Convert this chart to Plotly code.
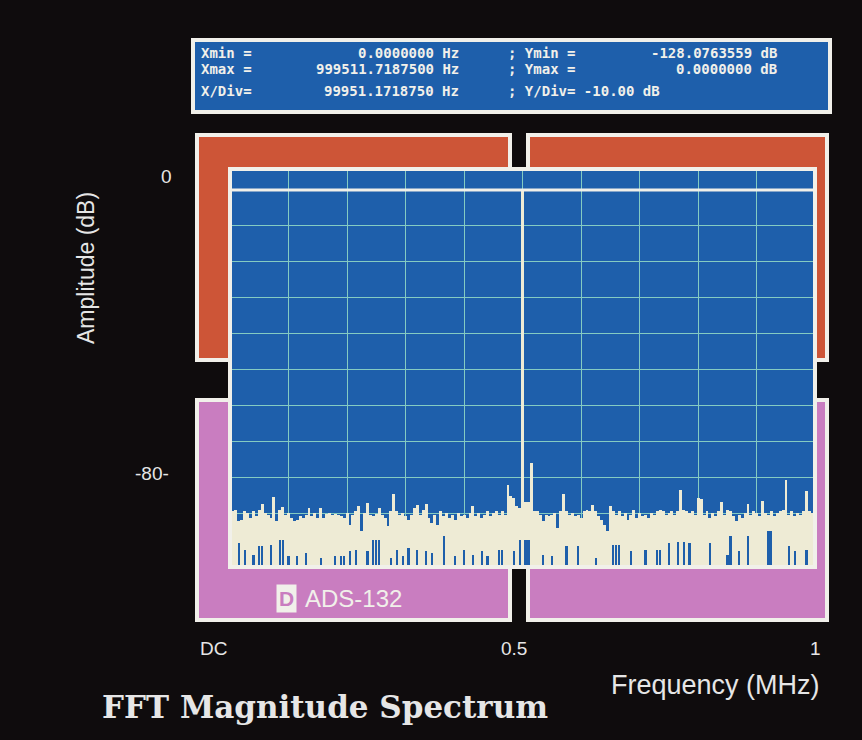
import plotly.graph_objects as go

# FFT display: 200 bins from DC to ~1 MHz, amplitude in dB
bin_width_mhz = 0.005
x_max_mhz = 0.9995117
y_top_db = 5.85
y_bottom_db = -105.0

# upper envelope of each bin (dB); bin 100 is the 0.5 MHz carrier
peak_db = [
    -87, -89.5, -89, -92.3, -91.8, -89.5, -90, -91.3, -89.5, -90.9,
    -89, -87.4, -90, -90.4, -91.3, -85.6, -92.3, -89, -88.4, -90.4,
    -90, -91.3, -92.3, -91.8, -90.9, -91.3, -90.4, -88.7, -90.9, -90,
    -91.3, -88.6, -91.3, -90.2, -90, -90.4, -90.2, -90.6, -90.9, -91.3,
    -90, -93.2, -90.4, -89.5, -88.1, -95.1, -90, -87.2, -90.4, -90.9,
    -90.2, -88.7, -90.4, -91.3, -93.7, -89.5, -84.8, -89.5, -90.4, -90,
    -90.9, -91.8, -90.4, -88.6, -87.6, -90.4, -89, -87.4, -91.3, -92.7,
    -90.4, -93.2, -89.5, -90.9, -90, -91.3, -90.4, -91.8, -90, -90.9,
    -90.4, -91.3, -90, -87.9, -90.9, -90, -91.3, -90.4, -89.5, -90.9,
    -90, -89.5, -90.4, -89.5, -90.4, -82.1, -85.3, -85.8, -88.1, -88.6,
    0.0, -87, -87, -76, -89.5, -89.5, -90.4, -92.3, -90.4, -90.9,
    -90.4, -90, -94.1, -89.5, -84.8, -89.5, -90.4, -90, -90.9, -90.4,
    -91.3, -89.5, -89, -89.5, -87.6, -89.5, -90.9, -91.8, -93.2, -95.1,
    -88.1, -89.5, -90.4, -89.5, -90.9, -90, -91.8, -90.4, -89, -91.3,
    -90, -90.9, -90.4, -91.3, -90, -90.4, -89.5, -89, -89.5, -90.4,
    -90, -89.5, -90.4, -89.5, -83.5, -89, -89.5, -90, -89.5, -90.4,
    -85.8, -86, -90.4, -89.5, -91.3, -90, -90.9, -89.5, -86.9, -90.4,
    -89, -89.5, -90.9, -92.3, -90.4, -91.3, -90, -87.4, -90.4, -89.5,
    -90, -90.9, -86.7, -90, -90.4, -89.5, -90.9, -90, -89.5, -89,
    -80.7, -90.4, -89.5, -90.9, -90, -90.4, -89.5, -83.9, -89.5, -90,
]

# bins where the trace does not reach the floor (gap top in dB)
hole_bins = [3, 5, 8, 10, 11, 14, 17, 18, 20, 23, 26, 31, 36, 38, 39, 41, 43, 47,
             49, 50, 51, 55, 57, 59, 61, 64, 67, 69, 73, 77, 80, 83, 86, 88, 92, 93,
             97, 99, 101, 102, 107, 110, 115, 119, 125, 131, 132, 133, 137, 142,
             146, 147, 150, 153, 155, 157, 164, 170, 171, 174, 177, 184, 185, 191,
             193, 197]
hole_top_db = [-98.3, -100.2, -101.6, -99.2, -99.2, -98.8, -97.4, -97.4, -102, -102,
               -101.1, -102.5, -102, -102, -102, -100.6, -100.2, -100.6, -97.4, -97.4,
               -97.4, -102.5, -100.2, -102, -99.7, -100.2, -100.6, -101.1, -96.5, -102,
               -100.2, -101.6, -100.6, -102, -100.2, -100.2, -100.6, -97.4, -97.4, -97.4,
               -101.6, -102, -99.2, -99.2, -102.5, -98.8, -98.8, -98.8, -100.6, -100.2,
               -100.2, -100.2, -98.3, -97.9, -97.9, -98.3, -98.3, -101.6, -96.5, -100.6,
               -96.5, -95.1, -95.1, -99.2, -100.6, -100.2]

info_left = [("Xmin =", "0.0000000 Hz"), ("Xmax =", "999511.7187500 Hz"), ("X/Div=", "99951.1718750 Hz")]
info_right = [("; Ymin =", "-128.0763559 dB"), ("; Ymax =", "0.0000000 dB"), ("; Y/Div= -10.00 dB", "")]

BG = "#0f0c0d"
BLUE = "#1e5fab"
ORANGE = "#cd5537"
PINK = "#c97dc0"
WHITE = "#f1f0ea"
CREAM = "#eeebd5"
GRID = "#84cbc2"
TEXT = "#e6e6e6"

W, H = 862, 740
L, R, T, B = 230, 815, 169, 567


def px(x):
    return (x - L) / (R - L)


def py(y):
    return (B - y) / (B - T)


floor_db = y_bottom_db - 1
freq = [i * bin_width_mhz for i in range(len(peak_db))]
hole_freq = [i * bin_width_mhz for i in hole_bins]

fig = go.Figure()
fig.add_trace(go.Bar(x=freq, y=[p - floor_db for p in peak_db], base=floor_db,
                     width=bin_width_mhz, marker=dict(color=CREAM, line_width=0),
                     hoverinfo="skip"))
fig.add_trace(go.Bar(x=hole_freq, y=[h - floor_db for h in hole_top_db], base=floor_db,
                     width=bin_width_mhz * 0.75, marker=dict(color=BLUE, line_width=0),
                     hoverinfo="skip"))

shapes = []
# coloured panels behind the screen, then the screen itself
for x0, x1, y0, y1, col in [(197, 510, 360, 135, ORANGE), (528, 827, 360, 135, ORANGE),
                            (197, 510, 620, 400, PINK), (528, 827, 620, 400, PINK),
                            (193, 830, 112, 40, BLUE)]:
    shapes.append(dict(type="rect", xref="paper", yref="paper", layer="below",
                       x0=px(x0), x1=px(x1), y0=py(y0), y1=py(y1),
                       fillcolor=col, line=dict(color=WHITE, width=4)))
shapes.append(dict(type="rect", xref="paper", yref="paper", layer="below",
                   x0=0, x1=1, y0=0, y1=1, fillcolor=BLUE, line=dict(color=WHITE, width=4)))
# 0 dB reference line and screen border
shapes.append(dict(type="line", xref="paper", yref="y", x0=0, x1=1, y0=0, y1=0,
                   line=dict(color=WHITE, width=3), layer="above"))
shapes.append(dict(type="rect", xref="paper", yref="paper", x0=0, x1=1, y0=0, y1=1,
                   line=dict(color=WHITE, width=4), layer="above"))

ann = []
mono = dict(family="DejaVu Sans Mono", size=14, color=WHITE, weight="bold")
rows_y = [53, 69, 91]
for (lab, val), (lab2, val2), yy in zip(info_left, info_right, rows_y):
    ann.append(dict(text=lab, x=px(199), y=py(yy), xanchor="left", font=mono))
    ann.append(dict(text=val, x=px(461), y=py(yy), xanchor="right", font=mono))
    ann.append(dict(text=lab2, x=px(506), y=py(yy), xanchor="left", font=mono))
    if val2:
        ann.append(dict(text=val2, x=px(779), y=py(yy), xanchor="right", font=mono))

sans = "Liberation Sans Narrow, Liberation Sans, Arial"
lab_font = dict(family=sans, size=19, color=TEXT)
ann += [
    dict(text="0", x=px(166), y=py(176), font=lab_font),
    dict(text="-80-", x=px(152), y=py(473), font=lab_font),
    dict(text="Amplitude (dB)", x=px(86), y=py(268), textangle=-90,
         font=dict(family=sans, size=23, color=TEXT)),
    dict(text="DC", x=px(213), y=py(648), font=lab_font),
    dict(text="0.5", x=px(514), y=py(648), font=lab_font),
    dict(text="1", x=px(815), y=py(648), font=lab_font),
    dict(text="Frequency (MHz)", x=px(715), y=py(685),
         font=dict(family=sans, size=27, color=TEXT)),
    dict(text="<b>FFT Magnitude Spectrum</b>", x=px(325), y=py(707),
         font=dict(family="DejaVu Serif", size=31, color=TEXT)),
    dict(text="<b>D</b>", x=px(286), y=py(598), bgcolor=WHITE, borderpad=2,
         font=dict(family="Liberation Sans", size=21, color=PINK)),
    dict(text="ADS-132", x=px(353), y=py(598),
         font=dict(family="Liberation Sans", size=24, color=WHITE)),
]
for a in ann:
    a.update(xref="paper", yref="paper", showarrow=False)
    a.setdefault("xanchor", "center")
    a.setdefault("yanchor", "middle")

fig.update_layout(
    width=W, height=H,
    margin=dict(l=L, r=W - R, t=T, b=H - B, pad=0),
    paper_bgcolor=BG, plot_bgcolor=BLUE,
    barmode="overlay", bargap=0, showlegend=False,
    shapes=shapes, annotations=ann,
    xaxis=dict(range=[0, x_max_mhz], tick0=0, dtick=x_max_mhz / 10,
               showgrid=True, gridcolor=GRID, gridwidth=1,
               showticklabels=False, ticks="", zeroline=False, showline=False),
    yaxis=dict(range=[y_bottom_db, y_top_db], tick0=0, dtick=10,
               showgrid=True, gridcolor=GRID, gridwidth=1,
               showticklabels=False, ticks="", zeroline=False, showline=False),
)

fig.write_html("out.html", config={"displayModeBar": False},
               post_script="document.body.style.margin = '0';")
